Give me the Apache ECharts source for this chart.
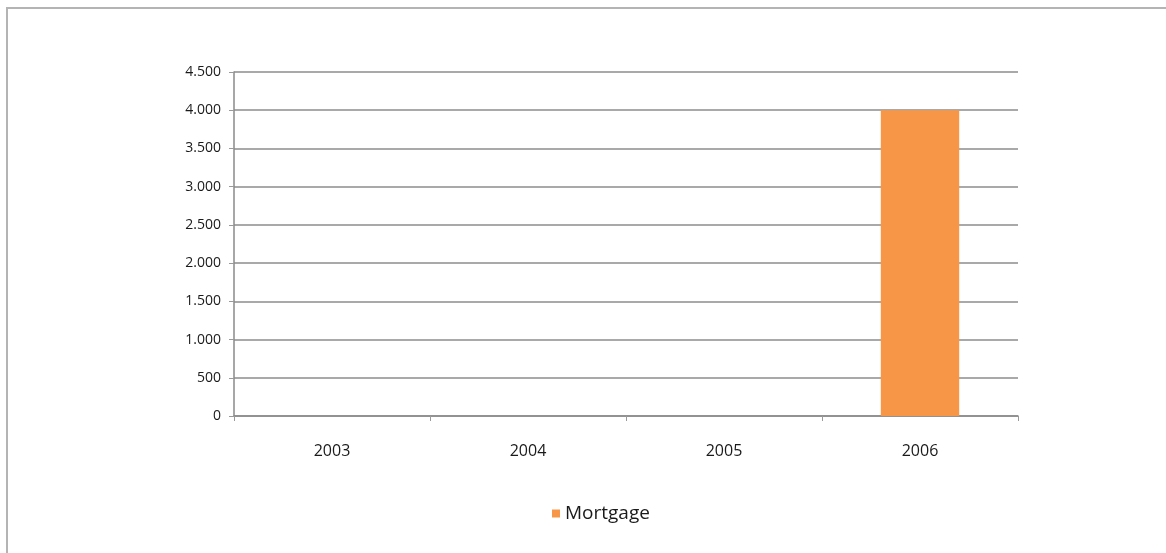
<!DOCTYPE html>
<html>
<head>
<meta charset="utf-8">
<script src="https://cdn.jsdelivr.net/npm/echarts@6/dist/echarts.min.js"></script>
<style>
  html, body { margin: 0; padding: 0; background: #fff; }
  #frame { position: absolute; left: 6px; top: 7px; width: 1160px; height: 546px;
           border-top: 2px solid #b4b4b4; border-left: 2px solid #b4b4b4; box-sizing: border-box; }
  #chart { position: absolute; left: 0; top: 0; width: 1166px; height: 553px; }
</style>
</head>
<body>
<div id="frame"></div>
<div id="chart"></div>
<script>
// Yearly mortgage totals
const years = ['2003', '2004', '2005', '2006'];
const mortgage = [0, 0, 0, 4000];
const yTicks = { min: 0, max: 4500, step: 500 };

function fmtThousands(v) {
  return String(v).replace(/\B(?=(\d{3})+(?!\d))/g, '.');
}

const chart = echarts.init(document.getElementById('chart'), null, { renderer: 'canvas' });
chart.setOption({
  animation: false,
  backgroundColor: 'transparent',
  textStyle: { fontFamily: '"Open Sans", "DejaVu Sans", sans-serif' },
  grid: { left: 234, top: 72, right: 148, bottom: 137, containLabel: false },
  legend: {
    data: ['Mortgage'],
    bottom: 25,
    left: 547,
    icon: 'rect',
    itemWidth: 8,
    itemHeight: 8,
    itemGap: 6,
    textStyle: { color: '#1a1a1a', fontSize: 19, fontFamily: '"Open Sans", sans-serif' }
  },
  xAxis: {
    type: 'category',
    data: years,
    axisLine: { lineStyle: { color: '#8a8a8a', width: 1.5 } },
    axisTick: { show: true, length: 5, lineStyle: { color: '#9a9a9a' } },
    axisLabel: { color: '#1a1a1a', fontSize: 16, margin: 27 },
    splitLine: { show: false }
  },
  yAxis: {
    type: 'value',
    min: yTicks.min,
    max: yTicks.max,
    interval: yTicks.step,
    axisLine: { show: true, lineStyle: { color: '#8a8a8a', width: 1.5 } },
    axisTick: { show: true, length: 5, lineStyle: { color: '#9a9a9a' } },
    axisLabel: { color: '#1a1a1a', fontSize: 14, margin: 13, formatter: fmtThousands },
    splitLine: { lineStyle: { color: '#8c8c8c', width: 1.5 } }
  },
  series: [{
    name: 'Mortgage',
    type: 'bar',
    data: mortgage,
    barWidth: '40%',
    itemStyle: { color: '#f79646' }
  }]
});
</script>
</body>
</html>
